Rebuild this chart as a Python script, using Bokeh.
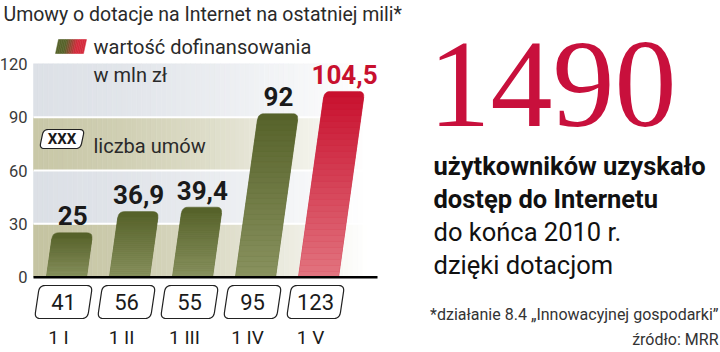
import numpy as np
from bokeh.plotting import figure
from bokeh.models import Range1d, Label
from bokeh.core.properties import value
from bokeh.embed import file_html
from bokeh.resources import INLINE

# ---------------- data ----------------
categories = ["1 I", "1 II", "1 III", "1 IV", "1 V"]
funding = [25, 36.9, 39.4, 92, 104.5]
funding_labels = ["25", "36,9", "39,4", "92", "104,5"]
contracts = [41, 56, 55, 95, 123]
y_ticks = [0, 30, 60, 90, 120]
band_edges = [0, 30, 60, 90, 120]
headline = "1490"

# ---------------- layout ----------------
W, H = 720, 352
PX_CAT = 63.0            # pixels per category
X0 = 63.0                # pixel x of category 0
PX_UNIT = 160.0 / 90.0   # pixels per value unit
Y0 = 276.7               # pixel y of value 0
SANS = "Roboto"

x_start = -X0 / PX_CAT
x_end = (W - X0) / PX_CAT
y_end = Y0 / PX_UNIT
y_start = -(H - Y0) / PX_UNIT

def X(px):
    return px / PX_CAT + x_start

def Y(py):
    return (Y0 - py) / PX_UNIT

def to_px(x, y):
    return ((x - x_start) * PX_CAT, Y0 - y * PX_UNIT)

def hexmix(c1, c2, t):
    a = np.array([int(c1[i:i + 2], 16) for i in (1, 3, 5)], float)
    b = np.array([int(c2[i:i + 2], 16) for i in (1, 3, 5)], float)
    c = a + (b - a) * t
    return "#%02x%02x%02x" % tuple(int(round(v)) for v in c)

def rounded_poly(corners, radii, n=7):
    pts = []
    m = len(corners)
    for k in range(m):
        p_ = np.array(corners[k], float)
        prev = np.array(corners[k - 1], float)
        nxt = np.array(corners[(k + 1) % m], float)
        r = radii[k]
        if r <= 0:
            pts.append(p_)
            continue
        a = p_ + (prev - p_) / np.linalg.norm(prev - p_) * r
        b = p_ + (nxt - p_) / np.linalg.norm(nxt - p_) * r
        for t in np.linspace(0, 1, n):
            pts.append((1 - t) ** 2 * a + 2 * (1 - t) * t * p_ + t ** 2 * b)
    xs = [X(q[0]) for q in pts]
    ys = [Y(q[1]) for q in pts]
    return xs, ys

p = figure(width=W, height=H, x_range=Range1d(x_start, x_end), y_range=Range1d(y_start, y_end),
           output_backend="svg", toolbar_location=None, min_border=0,
           x_axis_location=None, y_axis_location=None)
p.grid.visible = False
p.outline_line_color = None
p.background_fill_color = "white"
p.border_fill_color = "white"

# ---------------- background bands ----------------
band_left_px, band_right_px = 33.0, 377.0
band_colors = ["#c5c4a2", "#dce0e6", "#c9c8a8", "#dde1e7"]
M = 70
qs = dict(left=[], right=[], top=[], bottom=[], color=[])
for b in range(len(band_edges) - 1):
    for j in range(M):
        t = (j + 0.5) / M
        qs["left"].append(X(band_left_px + (band_right_px - band_left_px) * j / M))
        qs["right"].append(X(band_left_px + (band_right_px - band_left_px) * (j + 1) / M))
        qs["bottom"].append(band_edges[b])
        qs["top"].append(band_edges[b + 1])
        qs["color"].append(hexmix(band_colors[b], "#ffffff", min(1.0, t ** 1.5 * 1.05)))
p.quad(left="left", right="right", top="top", bottom="bottom", fill_color="color",
       line_color="color", line_width=0.6, source=qs)

# white grid lines
p.segment(x0=[X(band_left_px)] * 3, x1=[X(band_right_px)] * 3, y0=y_ticks[1:4], y1=y_ticks[1:4],
          line_color="white", line_width=2)

# ---------------- bars ----------------
BAR_OFF = 3.0 / PX_CAT
SLANT = 0.14  # px per px
top_cols = ["#56622a", "#56622a", "#56622a", "#56622a", "#c8102e"]
bot_cols = ["#89925f", "#89925f", "#89925f", "#89925f", "#e27580"]
R = 6.0
for i, v in enumerate(funding):
    bx, _ = to_px(i + BAR_OFF, 0)
    htop = v * PX_UNIT
    corners = [(bx - 20, Y0), (bx + 20, Y0), (bx + 20 + SLANT * htop, Y0 - htop),
               (bx - 20 + SLANT * htop, Y0 - htop)]
    xs, ys = rounded_poly(corners, [0, 0, R, R])
    p.patch(xs, ys, fill_color=top_cols[i], line_color=top_cols[i], line_width=0.5)
    N = 30
    vtop = v - R / PX_UNIT
    sxs, sys_, cols = [], [], []
    for j in range(N):
        ya = vtop * j / N
        yb = vtop * (j + 1) / N
        pa = ya * PX_UNIT
        pb = yb * PX_UNIT
        sxs.append([X(bx - 20 + SLANT * pa), X(bx + 20 + SLANT * pa), X(bx + 20 + SLANT * pb), X(bx - 20 + SLANT * pb)])
        sys_.append([ya, ya, yb, yb])
        cols.append(hexmix(bot_cols[i], top_cols[i], ((ya + yb) / 2) / v))
    p.patches(sxs, sys_, fill_color=cols, line_color=cols, line_width=0.5)

# value labels
lab_x = [i + BAR_OFF + SLANT * v * PX_UNIT / PX_CAT for i, v in enumerate(funding)]
lab_col = ["#1a1a1a"] * 4 + ["#c8102e"]
p.text(x=lab_x, y=funding, text=funding_labels, text_align="center", text_baseline="middle",
       y_offset=-17, text_font=value(SANS), text_font_style="bold",
       text_font_size="26px", text_color=lab_col)

# axis line
p.segment(x0=[X(band_left_px)], x1=[X(band_right_px)], y0=[0], y1=[0], line_color="black", line_width=2.5)

# tick labels
p.text(x=[X(27)] * len(y_ticks), y=y_ticks, text=[str(t) for t in y_ticks], text_align="right",
       text_baseline="middle", text_font=value(SANS), text_font_size="16.5px",
       text_color="#3a3a3a")

# ---------------- count boxes ----------------
BOX_CY = 301.5
BW, BH, BS = 53.0, 33.0, 0.15
for i, c in enumerate(contracts):
    cx, _ = to_px(i, 0)
    corners = [(cx - BW / 2 - BS * BH / 2, BOX_CY + BH / 2), (cx + BW / 2 - BS * BH / 2, BOX_CY + BH / 2),
               (cx + BW / 2 + BS * BH / 2, BOX_CY - BH / 2), (cx - BW / 2 + BS * BH / 2, BOX_CY - BH / 2)]
    xs, ys = rounded_poly(corners, [6, 6, 6, 6])
    p.patch(xs, ys, fill_color="white", line_color="#222222", line_width=1.2)
p.text(x=list(range(len(contracts))), y=[Y(BOX_CY)] * len(contracts), text=[str(c) for c in contracts],
       text_align="center", text_baseline="middle", text_font=value(SANS),
       text_font_size="22px", text_color="#1a1a1a")

# category labels
p.text(x=[i - 5.0 / PX_CAT for i in range(len(categories))], y=[Y(337)] * len(categories), text=categories,
       text_align="center", text_baseline="middle", text_font=value(SANS),
       text_font_size="19px", text_color="#1a1a1a")

# ---------------- legend ----------------
K = 16
gx, gy, gc = [], [], []
for j in range(K):
    a = 55 + 28 * j / K
    b = 55 + 28 * (j + 1) / K
    gx.append([X(a), X(b), X(b + 3), X(a + 3)])
    gy.append([Y(53), Y(53), Y(39), Y(39)])
    t = (j + 0.5) / K
    gc.append(hexmix("#56622a", "#d42a3c", min(1, max(0, (t - 0.3) / 0.4))))
p.patches(gx, gy, fill_color=gc, line_color=gc, line_width=0.5)

xxx = [(39, 148), (80, 148), (84, 129), (43, 129)]
xs, ys = rounded_poly(xxx, [5, 5, 5, 5])
p.patch(xs, ys, fill_color="white", line_color="#222222", line_width=1.2)
p.text(x=[X(61.5)], y=[Y(138.5)], text=["XXX"], text_align="center", text_baseline="middle",
       text_font=value(SANS), text_font_style="bold", text_font_size="15px",
       text_color="#1a1a1a")

def lab(text, x, y_mid, size, font=SANS, style="normal", color="#2a2a2a", align="left"):
    p.add_layout(Label(x=x, y=H - y_mid, x_units="screen", y_units="screen", text=text,
                       text_font=font, text_font_size=size, text_font_style=style,
                       text_color=color, text_align=align, text_baseline="middle"))

lab("Umowy o dotacje na Internet na ostatniej mili*", 3, 13.5, "19.5px")
lab("wartość dofinansowania", 93, 46.3, "20px")
lab("w mln zł", 93, 74.7, "20px")
lab("liczba umów", 93, 145, "20px")

# ---------------- right side ----------------
lab(headline, 428, 84, "124px", font="Liberation Serif", color="#c8103c")
lab("użytkowników uzyskało", 433, 165, "25.5px", style="bold", color="#111111")
lab("dostęp do Internetu", 433, 198, "25.5px", style="bold", color="#111111")
lab("do końca 2010 r.", 433, 231, "25.5px", color="#111111")
lab("dzięki dotacjom", 433, 264, "25.5px", color="#111111")
lab("*działanie 8.4 „Innowacyjnej gospodarki”", 718, 314, "16px", align="right", color="#333333")
lab("źródło: MRR", 718, 339, "16px", align="right", color="#333333")

open("out.html", "w").write(file_html(p, INLINE))
